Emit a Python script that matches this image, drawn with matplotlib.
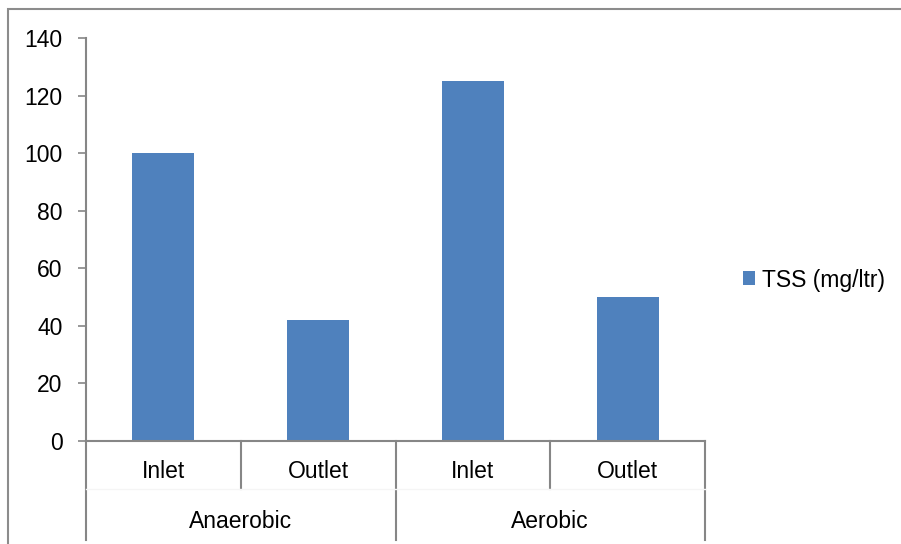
import numpy as np
import matplotlib.pyplot as plt
from matplotlib.patches import Rectangle
from matplotlib.transforms import blended_transform_factory

plt.rcParams['font.family'] = ['Liberation Sans', 'DejaVu Sans']

# data
stages = ['Inlet', 'Outlet', 'Inlet', 'Outlet']
groups = ['Anaerobic', 'Aerobic']
tss = [100, 42, 125, 50]
series_name = 'TSS (mg/ltr)'

bar_color = '#4F81BD'
axis_color = '#868686'
fs = 16.5

fig = plt.figure(figsize=(9.01, 5.44), dpi=100)
ax = fig.add_axes([86 / 901, 1 - 441 / 544, (705 - 86) / 901, (441 - 38) / 544])

x = np.arange(len(stages))
bars = ax.bar(x, tss, width=0.4, color=bar_color, label=series_name, zorder=2)

ax.set_xlim(-0.5, len(stages) - 0.5)
ax.set_ylim(0, 140)
ax.set_yticks(np.arange(0, 141, 20))
ax.set_xticks([])
ax.tick_params(axis='y', direction='out', length=6, width=1.2, color=axis_color,
               labelsize=fs, pad=11)
for s in ['top', 'right']:
    ax.spines[s].set_visible(False)
for s in ['left', 'bottom']:
    ax.spines[s].set_color(axis_color)
    ax.spines[s].set_linewidth(1.5)

# two-level category axis
trans = blended_transform_factory(ax.transData, ax.transAxes)
y_mid = -48 / 403
y_low = -99 / 403
edges = np.arange(len(stages) + 1) - 0.5
for i, e in enumerate(edges):
    bottom = y_low if i % 2 == 0 else y_mid
    ax.plot([e, e], [0, bottom], color=axis_color, lw=1.5, transform=trans, clip_on=False)
ax.plot([edges[0], edges[-1]], [y_mid, y_mid], color='#f5f5f5', lw=1,
        transform=trans, clip_on=False)
for xi, lab in zip(x, stages):
    ax.text(xi, -31 / 403, lab, ha='center', va='center', fontsize=fs, transform=trans)
for gi, g in enumerate(groups):
    ax.text(2 * gi + 0.5, -80 / 403, g, ha='center', va='center', fontsize=fs, transform=trans)

leg = fig.legend(handles=[bars], labels=[series_name], loc='center left',
                 bbox_to_anchor=(722 / 901, 1 - 280 / 544), frameon=False,
                 fontsize=fs, handlelength=0.55, handleheight=0.55, handletextpad=0.3)

# chart area border
fig.add_artist(Rectangle((8 / 901, -0.1), 1.2, 0.1 + 1 - 9 / 544, transform=fig.transFigure,
                         fill=False, edgecolor='#8c8c8c', lw=1.5))

fig.savefig('out.png', dpi=100)
